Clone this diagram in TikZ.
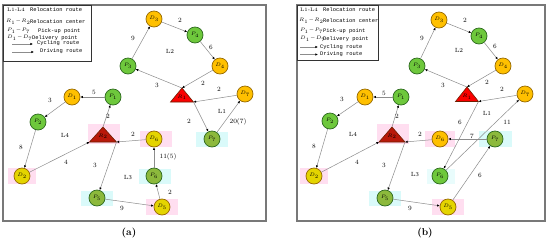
\documentclass[tikz,border=0pt]{standalone}
\usepackage{fontspec}
\setmonofont{Liberation Mono}
\usetikzlibrary{arrows.meta}
\definecolor{pfill}{RGB}{110,200,60}
\definecolor{pborder}{RGB}{45,105,30}
\definecolor{polive}{RGB}{140,185,60}
\definecolor{dfill}{RGB}{255,192,0}
\definecolor{dyellow}{RGB}{228,212,0}
\definecolor{dborder}{RGB}{150,105,0}
\definecolor{cyanbg}{RGB}{218,250,250}
\definecolor{pinkbg}{RGB}{255,222,240}
\definecolor{edgegray}{RGB}{140,140,140}
\definecolor{framegray}{RGB}{120,120,120}
\definecolor{rone}{RGB}{250,0,0}
\definecolor{rtwo}{RGB}{185,25,10}
\definecolor{rborder}{RGB}{110,30,0}
\newcommand{\rng}[2]{$#1\!-\!#2$}
\tikzset{
  pnode/.style={circle,draw=pborder,line width=0.7pt,fill=pfill,minimum size=16pt,inner sep=0pt,font=\fontsize{5}{5}\selectfont},
  ponode/.style={pnode,fill=polive},
  dnode/.style={circle,draw=dborder,line width=0.7pt,fill=dfill,minimum size=16pt,inner sep=0pt,font=\fontsize{5}{5}\selectfont},
  dynode/.style={dnode,fill=dyellow},
  route/.style={draw=edgegray,line width=0.5pt,-{Latex[length=2.6pt,width=2.4pt,color=black]}},
  elab/.style={font=\fontsize{6.5}{6.5}\selectfont,inner sep=0.5pt},
  rlab/.style={font=\fontsize{6}{6}\selectfont,inner sep=0.5pt},
  leg/.style={font=\ttfamily\fontsize{5.4}{5.4}\selectfont,anchor=west,inner sep=0pt},
  legm/.style={font=\fontsize{5}{5}\selectfont,anchor=west,inner sep=0pt},
  panelframe/.style={draw=framegray,line width=1.1pt},
  legbox/.style={draw=black!80,line width=0.6pt},
  tri/.style={line width=0.6pt,draw=rborder},
  captext/.style={font=\bfseries\fontsize{10}{10}\selectfont}
}
\begin{document}
\begin{tikzpicture}[x=1pt,y=-1pt]
\useasboundingbox (0,0) rectangle (550,242);
\fill[white] (0,0) rectangle (550,242);
% ================= panel (a) =================
\draw[panelframe] (3,5) rectangle (266,221);
\draw[legbox] (3,5) rectangle (91,61);
\node[legm] (la1) at (7,10) {L1-L4};
\node[leg] (la1t) at (30,10) {Relocation route};
\node[legm] (la2) at (6,22) {\rng{R_1}{R_2}};
\node[leg] (la2t) at (30,22) {Relocation center};
\node[legm] (la3) at (7,31) {\rng{P_1}{P_7}};
\node[leg] (la3t) at (38,31) {Pick-up point};
\node[legm] (la4) at (7,38) {\rng{D_1}{D_7}};
\node[leg] (la4t) at (32,38) {Delivery point};
\coordinate (la5s) at (12,44); \coordinate (la5e) at (33,44);
\draw[route] (la5s) -- (la5e);
\node[leg] (la5t) at (37,43.5) {Cycling route};
\coordinate (la6s) at (12,52); \coordinate (la6e) at (34,52);
\draw[route,line width=0.8pt] (la6s) -- (la6e);
\node[leg] (la6t) at (40,51.5) {Driving route};
% highlight backgrounds
\fill[pinkbg] (8,168) rectangle (36,184);
\fill[pinkbg] (88,124) rectangle (120,144);
\fill[cyanbg] (81,191) rectangle (113,206);
\fill[pinkbg] (146,199) rectangle (178,215);
\fill[cyanbg] (139,169) rectangle (171,184);
\fill[pinkbg] (140,131) rectangle (172,147);
\fill[cyanbg] (196,132) rectangle (228,147);
% triangles
\filldraw[tri,fill=rone] (182,88) -- (193.5,102) -- (170.5,102) -- cycle;
\coordinate (aR1t) at (182,88); \coordinate (aR1l) at (170.5,102); \coordinate (aR1r) at (193.5,102);
\node[font=\fontsize{4.5}{4.5}\selectfont,inner sep=0pt] (aR1) at (182,97.5) {$R_1$};
\filldraw[tri,fill=rtwo] (103,127) -- (116.5,142) -- (89.5,142) -- cycle;
\coordinate (aR2t) at (103,127); \coordinate (aR2l) at (89.5,142); \coordinate (aR2r) at (116.5,142);
\node[font=\fontsize{4.5}{4.5}\selectfont,inner sep=0pt] (aR2) at (103,136.5) {$R_2$};
% nodes
\node[dnode] (aD3) at (154,19) {$D_3$};
\node[pnode] (aP4) at (195,35) {$P_4$};
\node[dnode] (aD4) at (220,66) {$D_4$};
\node[pnode] (aP3) at (128,66) {$P_3$};
\node[dnode] (aD7) at (245,94) {$D_7$};
\node[dnode] (aD1) at (72,97) {$D_1$};
\node[pnode] (aP1) at (113,97) {$P_1$};
\node[pnode] (aP2) at (38,122) {$P_2$};
\node[dynode] (aD6) at (154,139) {$D_6$};
\node[ponode] (aP7) at (212,139) {$P_7$};
\node[dynode] (aD2) at (22,176) {$D_2$};
\node[ponode] (aP6) at (154,176) {$P_6$};
\node[ponode] (aP5) at (97,198) {$P_5$};
\node[dynode] (aD5) at (162,207) {$D_5$};
% routes
\draw[route] (aR1t) -- (aP3);
\draw[route] (aP3) -- (aD3);
\draw[route] (aD3) -- (aP4);
\draw[route] (aP4) -- (aD4);
\draw[route] (aD4) -- (aR1t);
\draw[route] (aD7) -- (aR1r);
\draw[route] (aR1r) -- (aP7);
\draw[route] (aP7) -- (aD7);
\draw[route] (aR2t) -- (aP1);
\draw[route] (aP1) -- (aD1);
\draw[route] (aD1) -- (aP2);
\draw[route] (aP2) -- (aD2);
\draw[route] (aD2) -- (aR2l);
\draw[route] (aR2r) -- (aP5);
\draw[route] (aP5) -- (aD5);
\draw[route] (aD5) -- (aP6);
\draw[route] (aP6) -- (aD6);
\draw[route] (aD6) -- (aR2r);
% labels
\node[elab] (a1) at (157,85) {3};
\node[elab] (a2) at (133,38) {9};
\node[elab] (a3) at (180,20) {2};
\node[elab] (a4) at (211,47) {6};
\node[elab] (a5) at (203,83) {2};
\node[elab] (a6) at (219,89) {2};
\node[elab] (a7) at (189,121) {2};
\node[elab] (a8) at (238,122) {20(7)};
\node[rlab] (aL1) at (222,111) {L1};
\node[rlab] (aL2) at (170,51) {L2};
\node[elab] (a9) at (108,116) {2};
\node[elab] (a10) at (94,92) {5};
\node[elab] (a11) at (50,100) {3};
\node[elab] (a12) at (21,147) {8};
\node[elab] (a13) at (66,162) {4};
\node[rlab] (aL4) at (65,135) {L4};
\node[elab] (a14) at (95,165) {3};
\node[elab] (a15) at (122,208) {9};
\node[elab] (a16) at (170,192) {2};
\node[elab] (a17) at (168,157) {11(5)};
\node[elab] (a18) at (133,134) {2};
\node[rlab] (aL3) at (128,178) {L3};
\node[captext] (capa) at (129,233) {(a)};
% ================= panel (b) =================
\draw[panelframe] (297,5) rectangle (545,221);
\draw[legbox] (297,5) rectangle (378,60);
\node[legm] (lb1) at (300,10) {L1-L4};
\node[leg] (lb1t) at (323,10) {Relocation route};
\node[legm] (lb2) at (299,21) {\rng{R_1}{R_2}};
\node[leg] (lb2t) at (323,21) {Relocation center};
\node[legm] (lb3) at (300,31) {\rng{P_1}{P_7}};
\node[leg] (lb3t) at (323,31) {Pick-up point};
\node[legm] (lb4) at (300,39) {\rng{D_1}{D_7}};
\node[leg] (lb4t) at (323,39) {Delivery point};
\coordinate (lb5s) at (300,47); \coordinate (lb5e) at (318,47);
\draw[route] (lb5s) -- (lb5e);
\node[leg] (lb5t) at (320,47) {Cycling route};
\coordinate (lb6s) at (300,54.5); \coordinate (lb6e) at (318,54.5);
\draw[route,line width=0.8pt] (lb6s) -- (lb6e);
\node[leg] (lb6t) at (320,54.5) {Driving route};
% highlight backgrounds
\fill[pinkbg] (300,168) rectangle (328,184);
\fill[pinkbg] (377,124) rectangle (409,144);
\fill[cyanbg] (369,191) rectangle (401,206);
\fill[pinkbg] (432,199) rectangle (464,215);
\fill[cyanbg!60] (427,169) rectangle (455,184);
\fill[pinkbg] (425,131) rectangle (455,147);
\fill[cyanbg] (479,131) rectangle (512,147);
% triangles
\filldraw[tri,fill=rone] (467,87) -- (478.5,101.5) -- (455.5,101.5) -- cycle;
\coordinate (bR1t) at (467,87); \coordinate (bR1l) at (455.5,101.5); \coordinate (bR1r) at (478.5,101.5);
\node[font=\fontsize{4.5}{4.5}\selectfont,inner sep=0pt] (bR1) at (467,97) {$R_1$};
\filldraw[tri,fill=rtwo] (392,127) -- (405,142) -- (379,142) -- cycle;
\coordinate (bR2t) at (392,127); \coordinate (bR2l) at (379,142); \coordinate (bR2r) at (405,142);
\node[font=\fontsize{4.5}{4.5}\selectfont,inner sep=0pt] (bR2) at (392,136.5) {$R_2$};
% nodes
\node[dnode] (bD3) at (439,20) {$D_3$};
\node[pnode] (bP4) at (479,36) {$P_4$};
\node[dnode] (bD4) at (503,66) {$D_4$};
\node[pnode] (bP3) at (417,66) {$P_3$};
\node[dnode] (bD7) at (525,94) {$D_7$};
\node[dnode] (bD1) at (365,97) {$D_1$};
\node[pnode] (bP1) at (401,97) {$P_1$};
\node[pnode] (bP2) at (330,121) {$P_2$};
\node[dnode] (bD6) at (440,139) {$D_6$};
\node[ponode] (bP7) at (495,139) {$P_7$};
\node[dynode] (bD2) at (314,176) {$D_2$};
\node[pnode] (bP6) at (440,176) {$P_6$};
\node[ponode] (bP5) at (385,198) {$P_5$};
\node[dynode] (bD5) at (448,207) {$D_5$};
% routes
\draw[route] (bR1t) -- (bP3);
\draw[route] (bP3) -- (bD3);
\draw[route] (bD3) -- (bP4);
\draw[route] (bP4) -- (bD4);
\draw[route] (bD4) -- (bR1t);
\draw[route] (bD7) -- (bR1r);
\draw[route] (bR1r) -- (bP6);
\draw[route] (bP6) -- (bD7);
\draw[route] (bR2t) -- (bP1);
\draw[route] (bP1) -- (bD1);
\draw[route] (bD1) -- (bP2);
\draw[route] (bP2) -- (bD2);
\draw[route] (bD2) -- (bR2l);
\draw[route] (bR2r) -- (bP5);
\draw[route] (bP5) -- (bD5);
\draw[route] (bD5) -- (bP7);
\draw[route] (bP7) -- (bD6);
\draw[route] (bD6) -- (bR2r);
% labels
\node[elab] (b1) at (443,85) {3};
\node[elab] (b2) at (422,38) {9};
\node[elab] (b3) at (465,20) {2};
\node[elab] (b4) at (495,46) {6};
\node[elab] (b5) at (487,82) {2};
\node[elab] (b6) at (502,89) {2};
\node[rlab] (bL2) at (459,50) {L2};
\node[elab] (b7) at (460,122) {6};
\node[rlab] (bL1) at (487,113) {L1};
\node[elab] (b8) at (507,122) {11};
\node[elab] (b9) at (472,136) {7};
\node[elab] (b10) at (480,175) {6};
\node[elab] (b11) at (397,116) {2};
\node[elab] (b12) at (384,93) {5};
\node[elab] (b13) at (342,99) {3};
\node[elab] (b14) at (314,146) {8};
\node[elab] (b15) at (357,162) {4};
\node[rlab] (bL4) at (353,134) {L4};
\node[elab] (b16) at (420,134) {2};
\node[elab] (b17) at (384,165) {3};
\node[elab] (b18) at (410,208) {9};
\node[rlab] (bL3) at (415,175) {L3};
\node[captext] (capb) at (425,233) {(b)};
\end{tikzpicture}
\end{document}
